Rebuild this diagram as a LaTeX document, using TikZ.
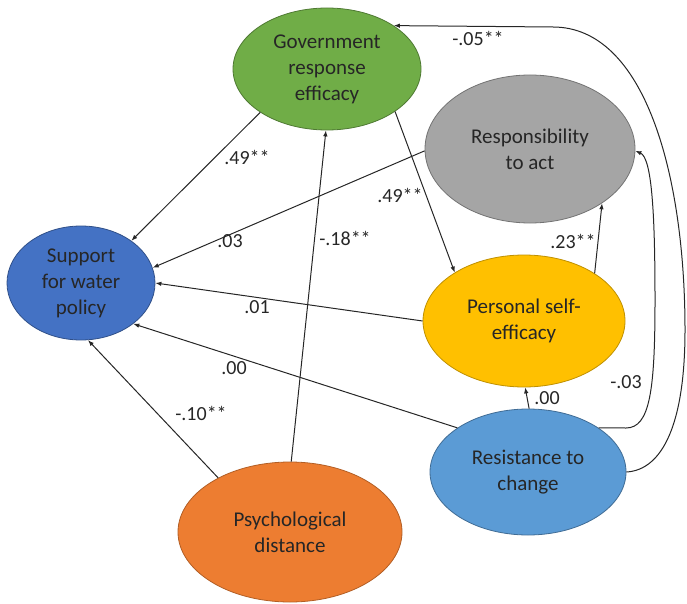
\documentclass[tikz,border=0pt]{standalone}
\usepackage{fontspec}
\setmainfont{Carlito}
\usetikzlibrary{shapes.geometric,arrows.meta}
\definecolor{cgreen}{HTML}{70AD47}
\definecolor{cgray}{HTML}{A5A5A5}
\definecolor{cblue}{HTML}{4472C4}
\definecolor{cyellow}{HTML}{FFC000}
\definecolor{clblue}{HTML}{5B9BD5}
\definecolor{corange}{HTML}{ED7D31}
\begin{document}
\begin{tikzpicture}[x=1pt,y=-1pt,
  var/.style={ellipse, inner sep=0pt, align=center, font=\fontsize{21}{26}\selectfont, text=black!85, line width=0.8pt},
  lab/.style={font=\fontsize{20}{24}\selectfont, text=black!85, inner sep=0pt},
  arr/.style={-{Latex[length=6pt,width=4.5pt]}, line width=1pt, draw=black!85}]
\useasboundingbox (0,0) rectangle (687,604);
\node[var, fill=cgreen, draw=cgreen!70!black, minimum width=188pt, minimum height=122pt] (G) at (327,69) {Government\\response\\efficacy};
\node[var, fill=cgray, draw=cgray!70!black, minimum width=210pt, minimum height=148pt] (Gr) at (530,149) {Responsibility\\to act};
\node[var, fill=cblue, draw=cblue!70!black, minimum width=148pt, minimum height=114pt] (B) at (81,283) {Support\\for water\\policy};
\node[var, fill=cyellow, draw=cyellow!75!black, minimum width=202pt, minimum height=132pt] (Y) at (524,321) {Personal self-\\efficacy};
\node[var, fill=clblue, draw=clblue!70!black, minimum width=196pt, minimum height=126pt] (R) at (528,472) {Resistance to\\change};
\node[var, fill=corange, draw=corange!75!black, minimum width=224pt, minimum height=140pt] (P) at (290,532) {Psychological\\distance};

\draw[arr] (G.213) -- (B.40);
\draw[arr] (P.89) -- (G.269);
\draw[arr] (G.328) -- (Y.145);
\draw[arr] (Gr.181) -- (B.12);
\draw[arr] (Y.180) -- (B.0);
\draw[arr] (R.148) -- (B.322);
\draw[arr] (P.143) -- (B.277);
\draw[arr] (Y.34) -- (Gr.323);
\draw[arr] (R.89) -- (Y.271);
\draw[arr] (R.32) -- (626,428) .. controls (650,428) and (655,390) .. (655,300) .. controls (655,215) and (652,158) .. (Gr.359);
\draw[arr] (R.0) .. controls (662,470) and (685,425) .. (685,330) .. controls (685,175) and (645,27) .. (553,27) -- (G.33);

\node[lab] (l1) at (247,157) {.49**};
\node[lab] (l2) at (345,238) {-.18**};
\node[lab] (l3) at (400,195) {.49**};
\node[lab] (l4) at (230,241) {.03};
\node[lab] (l5) at (257,307) {.01};
\node[lab] (l6) at (234,368) {.00};
\node[lab] (l7) at (201,413) {-.10**};
\node[lab] (l8) at (573,241) {.23**};
\node[lab] (l9) at (547,398) {.00};
\node[lab] (l10) at (626,382) {-.03};
\node[lab] (l11) at (478,38) {-.05**};
\end{tikzpicture}
\end{document}
